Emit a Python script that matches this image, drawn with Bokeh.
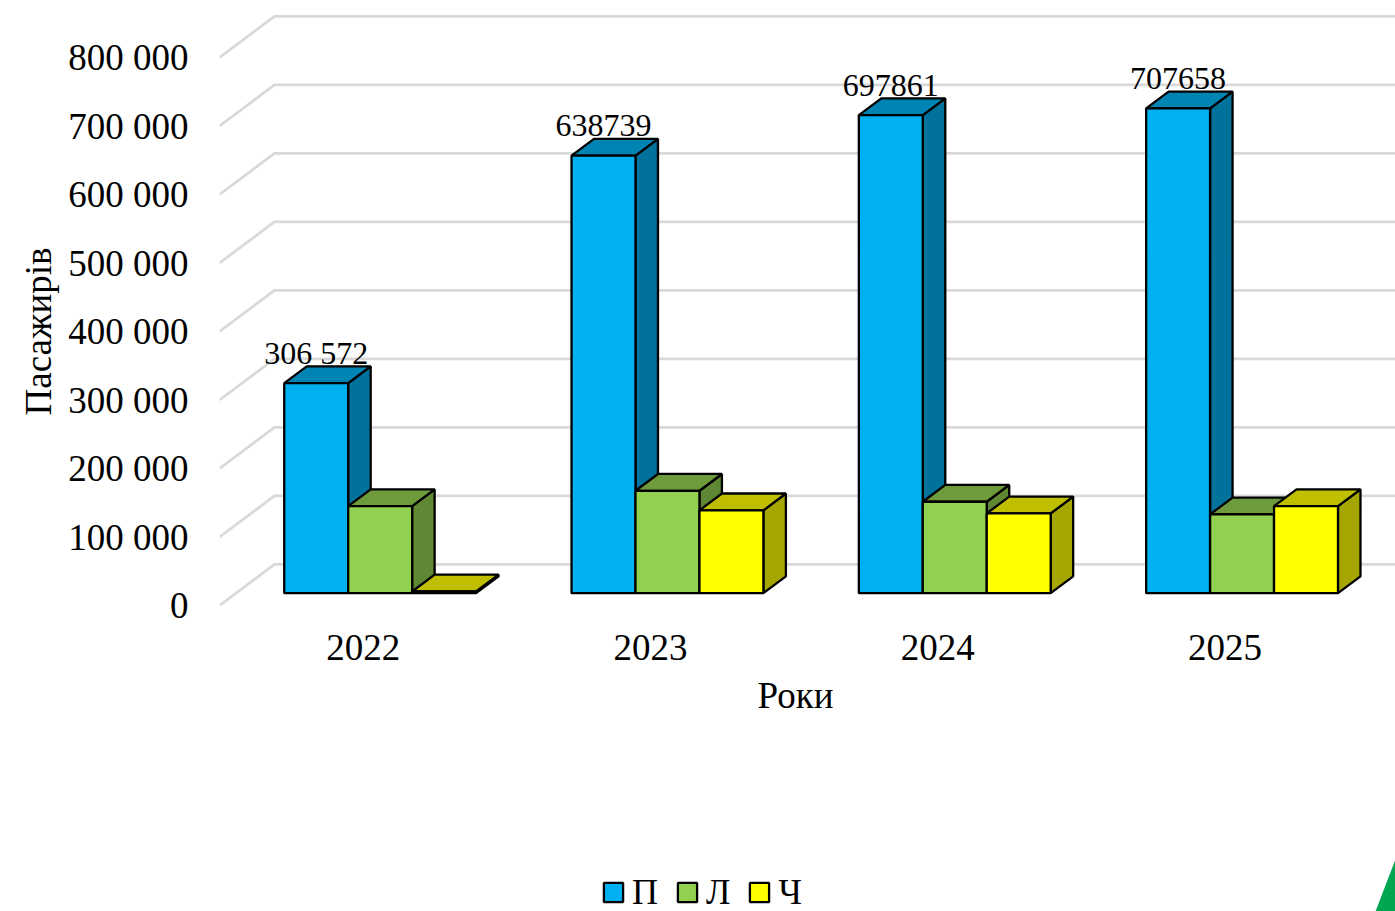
from bokeh.embed import file_html
from bokeh.layouts import column
from bokeh.models import FixedTicker, Legend, LegendItem, LinearAxis, Range1d, Title
from bokeh.plotting import figure
from bokeh.resources import INLINE
from bokeh.core.properties import value

# Passenger counts per year
years = ["2022", "2023", "2024", "2025"]
series_names = ["П", "Л", "Ч"]
passengers_p = [306572, 638739, 697861, 707658]
passengers_l = [127000, 149500, 133500, 115000]
passengers_ch = [2500, 121000, 116500, 127000]
value_labels = ["306 572", "638739", "697861", "707658"]
y_ticks = [0, 100000, 200000, 300000, 400000, 500000, 600000, 700000, 800000]
y_tick_labels = ["0", "100 000", "200 000", "300 000", "400 000", "500 000",
                 "600 000", "700 000", "800 000"]

# Face colours of each series: front, top, side
front_colors = ["#00B0F0", "#92D050", "#FFFF00"]
top_colors = ["#0084B4", "#6E9C3C", "#BFBF00"]
side_colors = ["#00729C", "#5F8734", "#A6A600"]
accent_color = "#00A651"

SERIF = "Liberation Serif"

# Oblique projection of the floor: a full step in depth moves a point by this much
DEPTH_X = 0.191
DEPTH_Y = 59900
BAR_DEPTH_FRONT = 0.30
BAR_DEPTH_BACK = 0.71
BAR_START = 0.168
BAR_WIDTH = 0.2226

FRAME_LEFT, FRAME_BOTTOM = 219, 605
CHART_HEIGHT, FOOTER_HEIGHT = 860, 51
X_MAX = 1176 / 287.3
Y_MAX = FRAME_BOTTOM / 68.5 * 100000

p = figure(width=1395, height=CHART_HEIGHT, output_backend="svg", toolbar_location=None,
           x_range=Range1d(0, X_MAX), y_range=Range1d(0, Y_MAX),
           x_axis_type=None, y_axis_type=None,
           min_border_left=FRAME_LEFT, min_border_right=0, min_border_top=0,
           min_border_bottom=CHART_HEIGHT - FRAME_BOTTOM)
p.outline_line_color = None
p.grid.visible = False


def place(x, v, depth):
    return x + depth * DEPTH_X, v + depth * DEPTH_Y


# Wall gridlines: a diagonal along the side wall, then across the back wall
for tick in y_ticks:
    p.line([0, DEPTH_X, X_MAX + DEPTH_X], [tick, tick + DEPTH_Y, tick + DEPTH_Y],
           line_color="#D9D9D9", line_width=2.8)

series_values = [passengers_p, passengers_l, passengers_ch]
for s, values in enumerate(series_values):
    side_xs, side_ys, top_xs, top_ys = [], [], [], []
    lefts, rights, tops = [], [], []
    for g, v in enumerate(values):
        x0 = g + BAR_START + s * BAR_WIDTH
        x1 = x0 + BAR_WIDTH
        fx0, ftop = place(x0, v, BAR_DEPTH_FRONT)
        fx1, fbot = place(x1, 0, BAR_DEPTH_FRONT)
        bx0, btop = place(x0, v, BAR_DEPTH_BACK)
        bx1, bbot = place(x1, 0, BAR_DEPTH_BACK)
        side_xs.append([fx1, bx1, bx1, fx1])
        side_ys.append([ftop, btop, bbot, fbot])
        top_xs.append([fx0, bx0, bx1, fx1])
        top_ys.append([ftop, btop, btop, ftop])
        lefts.append(fx0)
        rights.append(fx1)
        tops.append(ftop)
    bottom = BAR_DEPTH_FRONT * DEPTH_Y
    p.patches(side_xs, side_ys, fill_color=side_colors[s], line_color="black", line_width=2.3)
    p.patches(top_xs, top_ys, fill_color=top_colors[s], line_color="black", line_width=2.3)
    p.quad(left=lefts, right=rights, top=tops, bottom=bottom,
           fill_color=front_colors[s], line_color="black", line_width=2.3)

# Value labels over the tallest bar of each year
label_x = [g + BAR_START + BAR_WIDTH / 2 + BAR_DEPTH_FRONT * DEPTH_X for g in range(len(years))]
label_y = [v + BAR_DEPTH_FRONT * DEPTH_Y for v in passengers_p]
p.text(label_x, label_y, text=value_labels, text_font=value(SERIF), text_font_size="32px",
       text_color="black", text_align="center", text_baseline="alphabetic", y_offset=-30)

# Axes carry tick labels only; their titles sit in the side panels
y_axis = LinearAxis(ticker=FixedTicker(ticks=y_ticks),
                    major_label_overrides=dict(zip(y_ticks, y_tick_labels)),
                    major_label_text_font=SERIF, major_label_text_font_size="37px",
                    major_label_text_color="black", major_label_standoff=31,
                    axis_line_color=None, major_tick_line_color=None,
                    minor_tick_line_color=None, major_tick_out=0)
p.add_layout(y_axis, "left")

x_positions = [g + 0.5 for g in range(len(years))]
x_axis = LinearAxis(ticker=FixedTicker(ticks=x_positions),
                    major_label_overrides=dict(zip(x_positions, years)),
                    major_label_text_font=SERIF, major_label_text_font_size="37px",
                    major_label_text_color="black", major_label_standoff=29,
                    axis_line_color=None, major_tick_line_color=None,
                    minor_tick_line_color=None, major_tick_out=0)
p.add_layout(x_axis, "below")

p.add_layout(Title(text="Роки", align="left", offset=538, standoff=21,
                   text_font=SERIF, text_font_size="37px", text_font_style="normal",
                   text_color="black"), "below")
p.add_layout(Title(text="Пасажирів", align="left", offset=190, standoff=14,
                   text_font=SERIF, text_font_size="37px", text_font_style="normal",
                   text_color="black"), "left")

# Footer strip holds the legend and the green corner accent; its frame lines up
# with the chart's, so its x range starts at the chart's left inset
footer = figure(width=1395, height=FOOTER_HEIGHT, output_backend="svg", toolbar_location=None,
                x_range=Range1d(FRAME_LEFT, 1395), y_range=Range1d(911, 860),
                x_axis_type=None, y_axis_type=None,
                min_border=0, min_border_left=0, min_border_right=0,
                min_border_top=0, min_border_bottom=0)
footer.outline_line_color = None
footer.grid.visible = False

footer.patch([1394.5, 1396, 1396, 1375], [860, 860, 911, 911],
             fill_color=accent_color, line_color=None)

# Legend swatches take their look from renderers kept outside the visible range
legend_items = []
for name, color in zip(series_names, front_colors):
    swatch = footer.quad(left=[0], right=[20], top=[870], bottom=[880],
                         fill_color=color, line_color="black", line_width=2.3)
    legend_items.append(LegendItem(label=name, renderers=[swatch]))

legend = Legend(items=legend_items, orientation="horizontal", location=(382, -2),
                glyph_width=24, glyph_height=24, label_standoff=7, spacing=17,
                label_text_font=SERIF, label_text_font_size="36px", label_text_color="black",
                border_line_color=None, background_fill_alpha=0, margin=0, padding=0)
footer.add_layout(legend, "center")

page = column(p, footer, spacing=0)
open("out.html", "w").write(file_html(page, INLINE))
